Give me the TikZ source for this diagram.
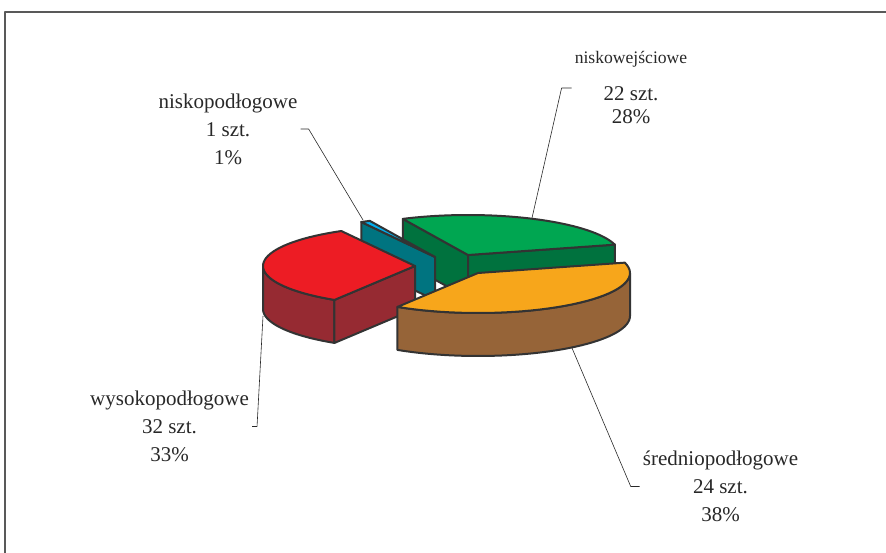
\documentclass[tikz,border=0pt]{standalone}
\usepackage{fontspec}
\setmainfont{Liberation Serif}
\usetikzlibrary{calc}

\definecolor{greentop}{RGB}{0,166,81}
\definecolor{greenside}{RGB}{0,114,62}
\definecolor{tealtop}{RGB}{0,174,239}
\definecolor{tealside}{RGB}{0,116,128}
\definecolor{redtop}{RGB}{237,28,36}
\definecolor{redside}{RGB}{150,42,50}
\definecolor{orangetop}{RGB}{247,166,27}
\definecolor{orangeside}{RGB}{150,100,56}
\definecolor{edgegrey}{RGB}{51,51,51}
\definecolor{textgrey}{RGB}{40,40,40}

% ellipse radii and height of the pie
\def\pierx{152}
\def\piery{40}
\def\piedepth{43}

% radial wall: centre x, centre y, angle, colour
\newcommand{\piewall}[4]{%
  \filldraw[face,fill=#4] (#1,#2) -- ({#1+\pierx*cos(#3)},{#2+\piery*sin(#3)})
    -- ++(0,\piedepth) -- (#1,#2+\piedepth) -- cycle;}
% outer wall: centre x, centre y, from, to, colour
\newcommand{\pierim}[5]{%
  \filldraw[face,fill=#5] plot[domain=#3:#4] ({#1+\pierx*cos(\x)},{#2+\piery*sin(\x)})
    -- plot[domain=#4:#3] ({#1+\pierx*cos(\x)},{#2+\piedepth+\piery*sin(\x)}) -- cycle;}
% top face: centre x, centre y, from, to, colour
\newcommand{\pietop}[5]{%
  \filldraw[face,fill=#5] (#1,#2) -- plot[domain=#3:#4] ({#1+\pierx*cos(\x)},{#2+\piery*sin(\x)}) -- cycle;}

\begin{document}
\begin{tikzpicture}[x=1pt,y=-1pt,line join=round,samples=40,
  face/.style={draw=edgegrey,line width=2pt},
  label node/.style={align=center,text=textgrey,inner sep=3pt,
    font=\fontsize{21}{28}\selectfont},
  leader/.style={draw=textgrey,line width=0.6pt}]

  \useasboundingbox (0,0) rectangle (886,553);
  \draw[draw=black!65,line width=1.2pt] (5,553) -- (5,12) -- (886,12);

  % niskowejsciowe
  \piewall{468}{255}{244.6}{greenside}
  \piewall{468}{255}{345}{greenside}
  \pietop{468}{255}{244.6}{345}{greentop}

  % niskopodlogowe
  \piewall{435}{257}{241}{tealside}
  \pietop{435}{257}{241}{244.6}{tealtop}

  % wysokopodlogowe
  \pierim{415}{266}{122}{180}{redside}
  \piewall{415}{266}{122}{redside}
  \pietop{415}{266}{122}{241}{redtop}

  % sredniopodlogowe
  \pierim{478}{273}{0}{122}{orangeside}
  \pietop{478}{273}{-15}{122}{orangetop}

  \coordinate (greentip) at (532,218);
  \coordinate (tealtip) at (363,220);
  \coordinate (redtip) at (263,316);
  \coordinate (orangetip) at (572,348);

  \node[label node] (lblnw) at (631,88)
    {{\fontsize{17.6}{20}\selectfont niskowejściowe}\\[9pt]22 szt.\\[-5pt]28\%};
  \node[label node] (lblnp) at (228,129) {niskopodłogowe\\1 szt.\\1\%};
  \node[label node] (lblwp) at (169.5,426.5) {wysokopodłogowe\\32 szt.\\33\%};
  \node[label node] (lblsp) at (720.5,486.5) {średniopodłogowe\\24 szt.\\38\%};

  \draw[leader] (lblnw.west) -- ++(-10,0) -- (greentip);
  \draw[leader] (lblnp.east) -- ++(8,0) -- (tealtip);
  \draw[leader] (lblwp.east) -- ++(5,0) -- (redtip);
  \draw[leader] (lblsp.west) -- ++(-9,0) -- (orangetip);

\end{tikzpicture}
\end{document}
